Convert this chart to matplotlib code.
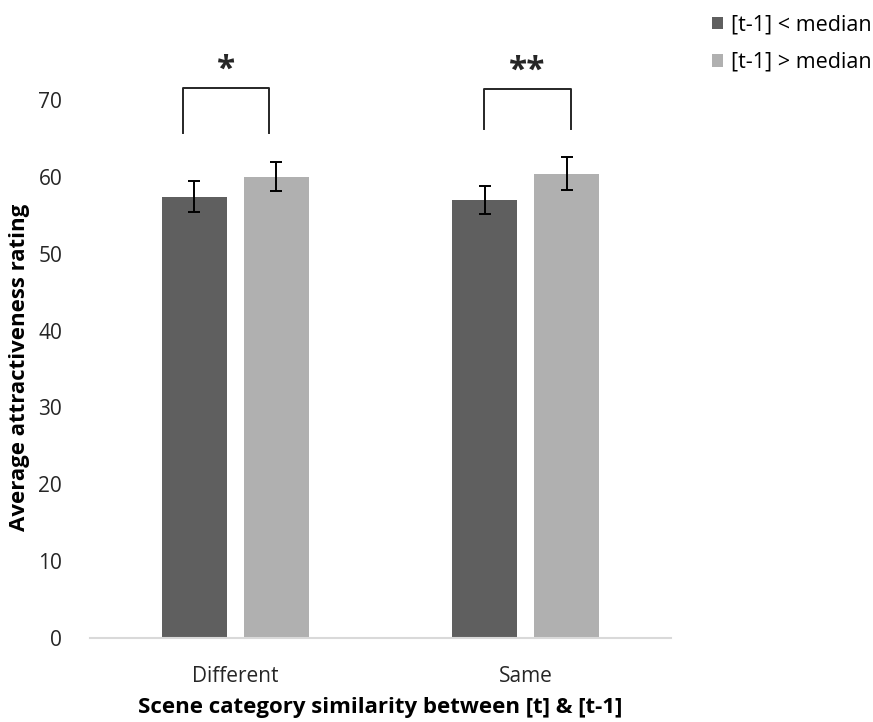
import matplotlib
matplotlib.use("Agg")
import matplotlib.pyplot as plt
import numpy as np

# data
categories = ["Different", "Same"]
series_names = ["[t-1] < median", "[t-1] > median"]
below_median = [57.4, 57.0]
above_median = [60.0, 60.4]
below_err = [2.0, 1.8]
above_err = [1.9, 2.15]
stars = ["*", "**"]

plt.rcParams['font.family'] = ['Open Sans', 'DejaVu Sans']

W, H = 873, 722
fig = plt.figure(figsize=(W / 100, H / 100), dpi=100)
ax = fig.add_axes([90 / W, 1 - 638 / H, 581 / W, 538 / H])

x = np.arange(len(categories))
bw = 0.224
off = 0.141
b1 = ax.bar(x - off, below_median, bw, color='#5f5f5f', label=series_names[0])
b2 = ax.bar(x + off, above_median, bw, color='#b0b0b0', label=series_names[1])
ax.errorbar(x - off, below_median, yerr=below_err, fmt='none', ecolor='black',
            elinewidth=1.4, capsize=4.5, capthick=1.4)
ax.errorbar(x + off, above_median, yerr=above_err, fmt='none', ecolor='black',
            elinewidth=1.4, capsize=4.5, capthick=1.4)

ax.set_xlim(-0.5, 1.5)
ax.set_ylim(0, 70)
ax.set_yticks(range(0, 71, 10))
ax.set_xticks(x)
ax.set_xticklabels(categories)
ax.tick_params(axis='both', length=0, labelsize=15, colors='#262626')
ax.tick_params(axis='y', pad=20)
ax.tick_params(axis='x', pad=20)
for s in ['left', 'top', 'right']:
    ax.spines[s].set_visible(False)
ax.spines['bottom'].set_color('#d9d9d9')
ax.spines['bottom'].set_linewidth(1.5)

# significance brackets
brackets = [(-0.180, 0.116, 65.7, 71.5), (0.856, 1.156, 66.2, 71.4)]
for (xl, xr, yb, yt), st in zip(brackets, stars):
    ax.plot([xl, xl, xr, xr], [yb, yt, yt, yb], color='#262626', lw=1.4,
            clip_on=False)
    ax.text((xl + xr) / 2, yt + 0.2, st, ha='center', va='bottom',
            fontsize=24, fontweight='bold', color='#262626', clip_on=False)

fig.text(20 / W, 1 - 367 / H, 'Average attractiveness rating', rotation=90,
         ha='center', va='center', fontsize=16, fontweight='bold')
fig.text(380 / W, 1 - 707 / H, 'Scene category similarity between [t] & [t-1]',
         ha='center', va='center', fontsize=16, fontweight='bold')

fig.legend(handles=[b1, b2], loc='upper left', bbox_to_anchor=(703 / W, 1 - 6 / H),
           frameon=False, fontsize=15.5, handlelength=0.55, handleheight=0.55,
           handletextpad=0.35, labelspacing=0.75, borderaxespad=0)

fig.savefig('out.png', dpi=100)
